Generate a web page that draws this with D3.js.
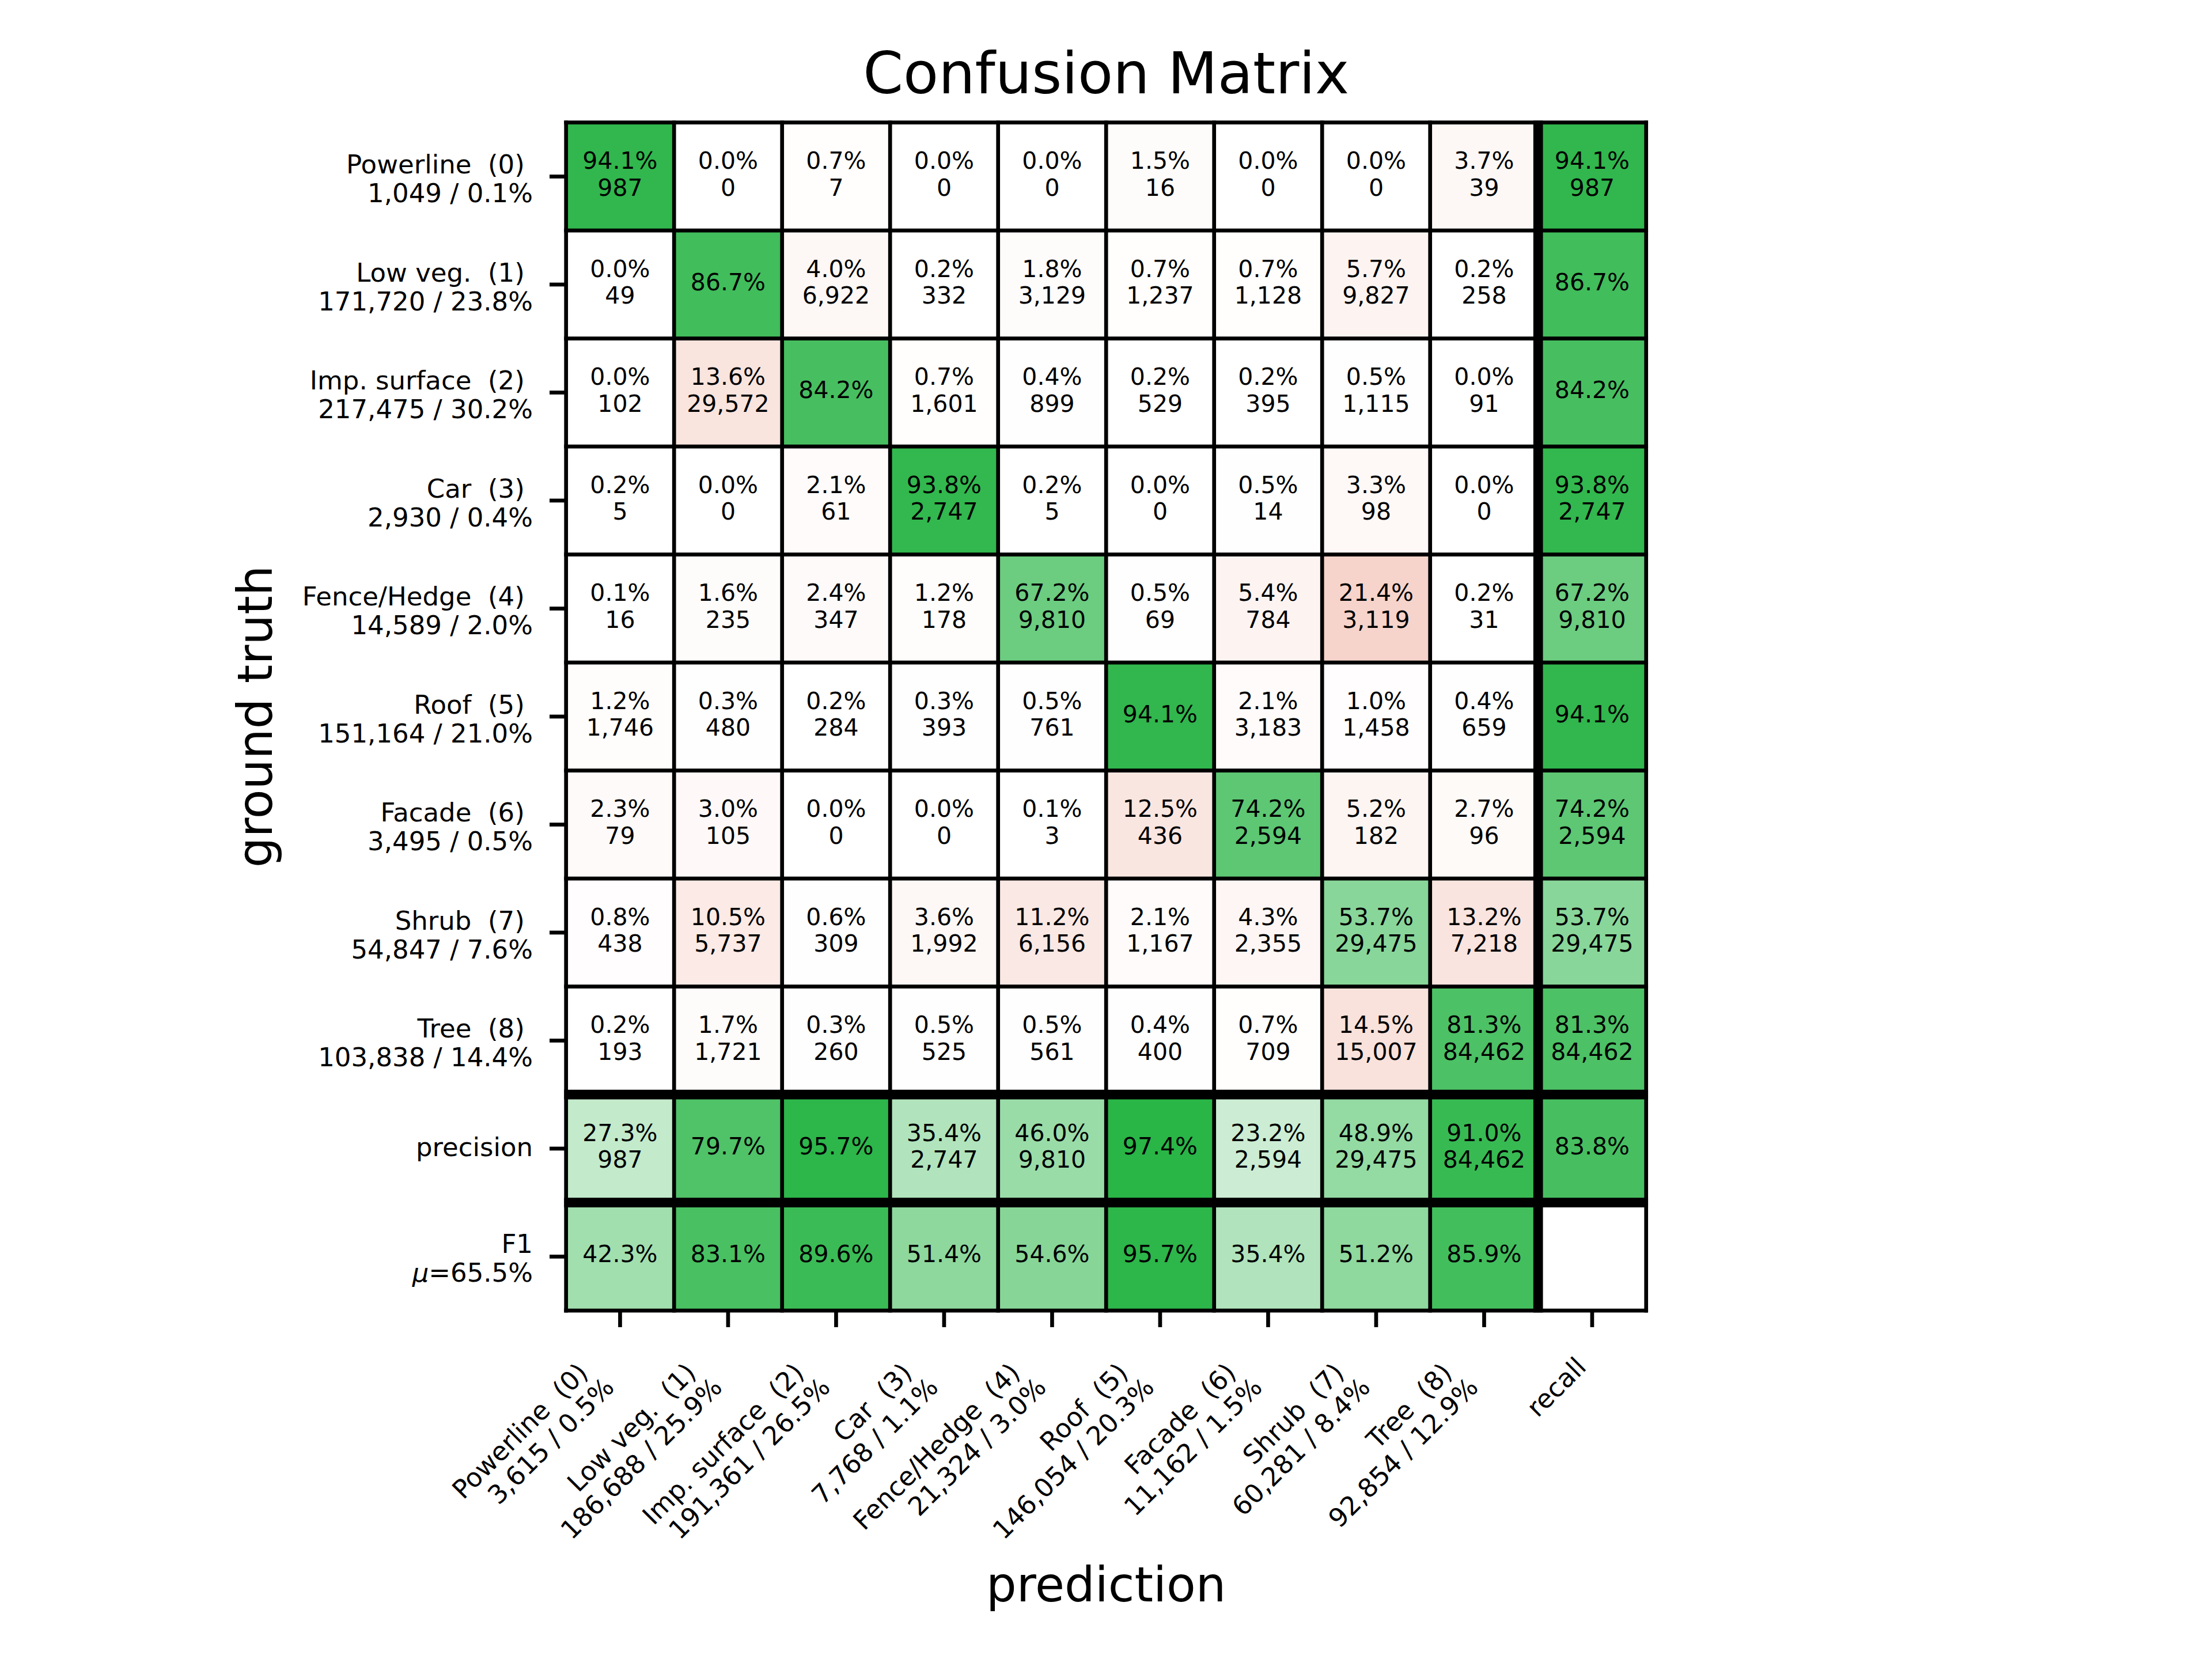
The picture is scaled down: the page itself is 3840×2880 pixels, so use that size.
<!DOCTYPE html>
<html>
<head>
<meta charset="utf-8">
<script src="https://cdn.jsdelivr.net/npm/d3@7"></script>
<style>
body { margin: 0; background: #fff; }
text { font-family: "DejaVu Sans", sans-serif; white-space: pre; fill: #000; }
</style>
</head>
<body>
<svg id="chart" width="3840" height="2880"></svg>
<script>
// class names and totals
var classes = ["Powerline", "Low veg.", "Imp. surface", "Car", "Fence/Hedge", "Roof", "Facade", "Shrub", "Tree"];
var gtCount = [1049, 171720, 217475, 2930, 14589, 151164, 3495, 54847, 103838];
var gtShare = [0.1, 23.8, 30.2, 0.4, 2.0, 21.0, 0.5, 7.6, 14.4];
var predCount = [3615, 186688, 191361, 7768, 21324, 146054, 11162, 60281, 92854];
var predShare = [0.5, 25.9, 26.5, 1.1, 3.0, 20.3, 1.5, 8.4, 12.9];

// row-normalised percentages (ground truth rows, prediction columns)
var rowPct = [
 [94.1, 0.0, 0.7, 0.0, 0.0, 1.5, 0.0, 0.0, 3.7],
 [0.0, 86.7, 4.0, 0.2, 1.8, 0.7, 0.7, 5.7, 0.2],
 [0.0, 13.6, 84.2, 0.7, 0.4, 0.2, 0.2, 0.5, 0.0],
 [0.2, 0.0, 2.1, 93.8, 0.2, 0.0, 0.5, 3.3, 0.0],
 [0.1, 1.6, 2.4, 1.2, 67.2, 0.5, 5.4, 21.4, 0.2],
 [1.2, 0.3, 0.2, 0.3, 0.5, 94.1, 2.1, 1.0, 0.4],
 [2.3, 3.0, 0.0, 0.0, 0.1, 12.5, 74.2, 5.2, 2.7],
 [0.8, 10.5, 0.6, 3.6, 11.2, 2.1, 4.3, 53.7, 13.2],
 [0.2, 1.7, 0.3, 0.5, 0.5, 0.4, 0.7, 14.5, 81.3]
];
// counts shown under the percentages (null = not printed)
var cellCount = [
 [987, 0, 7, 0, 0, 16, 0, 0, 39],
 [49, null, 6922, 332, 3129, 1237, 1128, 9827, 258],
 [102, 29572, null, 1601, 899, 529, 395, 1115, 91],
 [5, 0, 61, 2747, 5, 0, 14, 98, 0],
 [16, 235, 347, 178, 9810, 69, 784, 3119, 31],
 [1746, 480, 284, 393, 761, null, 3183, 1458, 659],
 [79, 105, 0, 0, 3, 436, 2594, 182, 96],
 [438, 5737, 309, 1992, 6156, 1167, 2355, 29475, 7218],
 [193, 1721, 260, 525, 561, 400, 709, 15007, 84462]
];
var recallPct = [94.1, 86.7, 84.2, 93.8, 67.2, 94.1, 74.2, 53.7, 81.3];
var recallCount = [987, null, null, 2747, 9810, null, 2594, 29475, 84462];
var precisionPct = [27.3, 79.7, 95.7, 35.4, 46.0, 97.4, 23.2, 48.9, 91.0];
var precisionCount = [987, null, null, 2747, 9810, null, 2594, 29475, 84462];
var overallPct = 83.8;
var f1Pct = [42.3, 83.1, 89.6, 51.4, 54.6, 95.7, 35.4, 51.2, 85.9];
var f1Mean = 65.5;

var fmt = d3.format(",");
var green = d3.interpolateRgb("#ffffff", "rgb(36,179,66)");
var red = d3.interpolateRgb("#ffffff", "rgb(213,54,12)");

var svg = d3.select("#chart");
var gLeft = 982.7, gRight = 2857.7, gTop = 212.7, gBottom = 2275.2;
var x = d3.scaleBand().domain(d3.range(10)).range([gLeft, gRight]);
var y = d3.scaleBand().domain(d3.range(11)).range([gTop, gBottom]);
var bw = x.bandwidth(), bh = y.bandwidth();

// build cells
var cells = [];
for (var r = 0; r < 9; r++) {
 for (var c = 0; c < 9; c++) {
  cells.push({r: r, c: c, pct: rowPct[r][c], count: cellCount[r][c], fill: r == c ? green(rowPct[r][c] / 100) : red(rowPct[r][c] / 100)});
 }
 cells.push({r: r, c: 9, pct: recallPct[r], count: recallCount[r], fill: green(recallPct[r] / 100)});
}
for (var c = 0; c < 9; c++) {
 cells.push({r: 9, c: c, pct: precisionPct[c], count: precisionCount[c], fill: green(precisionPct[c] / 100)});
 cells.push({r: 10, c: c, pct: f1Pct[c], count: null, fill: green(f1Pct[c] / 100)});
}
cells.push({r: 9, c: 9, pct: overallPct, count: null, fill: green(overallPct / 100)});
cells.push({r: 10, c: 9, pct: null, count: null, fill: "#ffffff"});

svg.selectAll("rect.cell").data(cells).enter().append("rect").attr("class", "cell")
 .attr("x", function(d) { return x(d.c); }).attr("y", function(d) { return y(d.r); })
 .attr("width", bw).attr("height", bh).attr("fill", function(d) { return d.fill; });

var cellText = svg.selectAll("text.cell").data(cells.filter(function(d) { return d.pct != null; })).enter()
 .append("text").attr("class", "cell").attr("text-anchor", "middle").style("font-size", "41px");
cellText.each(function(d) {
 var t = d3.select(this);
 var cx = x(d.c) + bw / 2, cy = y(d.r) + bh / 2;
 if (d.count == null) {
  t.append("tspan").attr("x", cx).attr("y", cy + 10).text(d.pct.toFixed(1) + "%");
 } else {
  t.append("tspan").attr("x", cx).attr("y", cy - 13).text(d.pct.toFixed(1) + "%");
  t.append("tspan").attr("x", cx).attr("y", cy + 33.5).text(fmt(d.count));
 }
});

// grid lines
var thin = 6.7, thick = 16.7;
var xb = d3.range(10).map(function(i) { return x(i); }).concat([gRight]);
var yb = d3.range(11).map(function(i) { return y(i); }).concat([gBottom]);
svg.selectAll("line.v").data(xb).enter().append("line").attr("class", "v")
 .attr("x1", function(d) { return d; }).attr("x2", function(d) { return d; })
 .attr("y1", gTop - thin / 2).attr("y2", gBottom + thin / 2)
 .attr("stroke", "#000").attr("stroke-width", function(d, i) { return i == 9 ? thick : thin; });
svg.selectAll("line.h").data(yb).enter().append("line").attr("class", "h")
 .attr("y1", function(d) { return d; }).attr("y2", function(d) { return d; })
 .attr("x1", gLeft - thin / 2).attr("x2", gRight + thin / 2)
 .attr("stroke", "#000").attr("stroke-width", function(d, i) { return (i == 9 || i == 10) ? thick : thin; });

// ticks
var tickLen = 28.7;
svg.selectAll("line.yt").data(d3.range(11)).enter().append("line").attr("class", "yt")
 .attr("x1", gLeft - tickLen).attr("x2", gLeft)
 .attr("y1", function(d) { return y(d) + bh / 2; }).attr("y2", function(d) { return y(d) + bh / 2; })
 .attr("stroke", "#000").attr("stroke-width", thin);
svg.selectAll("line.xt").data(d3.range(10)).enter().append("line").attr("class", "xt")
 .attr("x1", function(d) { return x(d) + bw / 2; }).attr("x2", function(d) { return x(d) + bw / 2; })
 .attr("y1", gBottom).attr("y2", gBottom + tickLen)
 .attr("stroke", "#000").attr("stroke-width", thin);

// y tick labels
var yLabelX = gLeft - tickLen - 29;
var yLabels = classes.map(function(n, i) { return [n + "  (" + i + ") ", fmt(gtCount[i]) + " / " + gtShare[i].toFixed(1) + "%"]; });
yLabels.forEach(function(lines, i) {
 var cy = y(i) + bh / 2;
 var t = svg.append("text").attr("text-anchor", "end").style("font-size", "45px");
 t.append("tspan").attr("x", yLabelX).attr("y", cy - 5).text(lines[0]);
 t.append("tspan").attr("x", yLabelX).attr("y", cy + 45).text(lines[1]);
});
svg.append("text").attr("text-anchor", "end").style("font-size", "45px")
 .attr("x", yLabelX).attr("y", y(9) + bh / 2 + 13).text("precision");
var f1t = svg.append("text").attr("text-anchor", "end").style("font-size", "45px");
f1t.append("tspan").attr("x", yLabelX).attr("y", y(10) + bh / 2 - 6).text("F1");
var f1l = f1t.append("tspan").attr("x", yLabelX).attr("y", y(10) + bh / 2 + 44);
f1l.append("tspan").style("font-style", "italic").text("\u03bc");
f1l.append("tspan").text("=" + f1Mean.toFixed(1) + "%");

// x tick labels, rotated 45 degrees, right edge at the tick
var xLabels = classes.map(function(n, i) { return [n + "  (" + i + ") ", fmt(predCount[i]) + " / " + predShare[i].toFixed(1) + "%"]; });
xLabels.push(["recall"]);
var xLabelTop = 2346;
var k = Math.SQRT1_2;
xLabels.forEach(function(lines, i) {
 var g = svg.append("g");
 var t = g.append("text").attr("text-anchor", "end").style("font-size", "45px");
 lines.forEach(function(l, j) { t.append("tspan").attr("x", 0).attr("y", j * 50).text(l); });
 var b = t.node().getBBox();
 var pts = [[b.x, b.y], [b.x + b.width, b.y], [b.x, b.y + b.height], [b.x + b.width, b.y + b.height]]
  .map(function(p) { return [k * p[0] + k * p[1], -k * p[0] + k * p[1]]; });
 var maxX = d3.max(pts, function(p) { return p[0]; });
 var minY = d3.min(pts, function(p) { return p[1]; });
 var cx = x(i) + bw / 2;
 g.attr("transform", "translate(" + (cx - maxX) + "," + (xLabelTop - minY) + ") rotate(-45)");
});

// titles
svg.append("text").attr("text-anchor", "middle").style("font-size", "100px")
 .attr("x", (gLeft + gRight) / 2).attr("y", 162).text("Confusion Matrix");
svg.append("text").attr("text-anchor", "middle").style("font-size", "83px")
 .attr("x", (gLeft + gRight) / 2).attr("y", 2780).text("prediction");
svg.append("text").attr("text-anchor", "middle").style("font-size", "83px")
 .attr("transform", "translate(472," + ((gTop + gBottom) / 2) + ") rotate(-90)").text("ground truth");
</script>
</body>
</html>
